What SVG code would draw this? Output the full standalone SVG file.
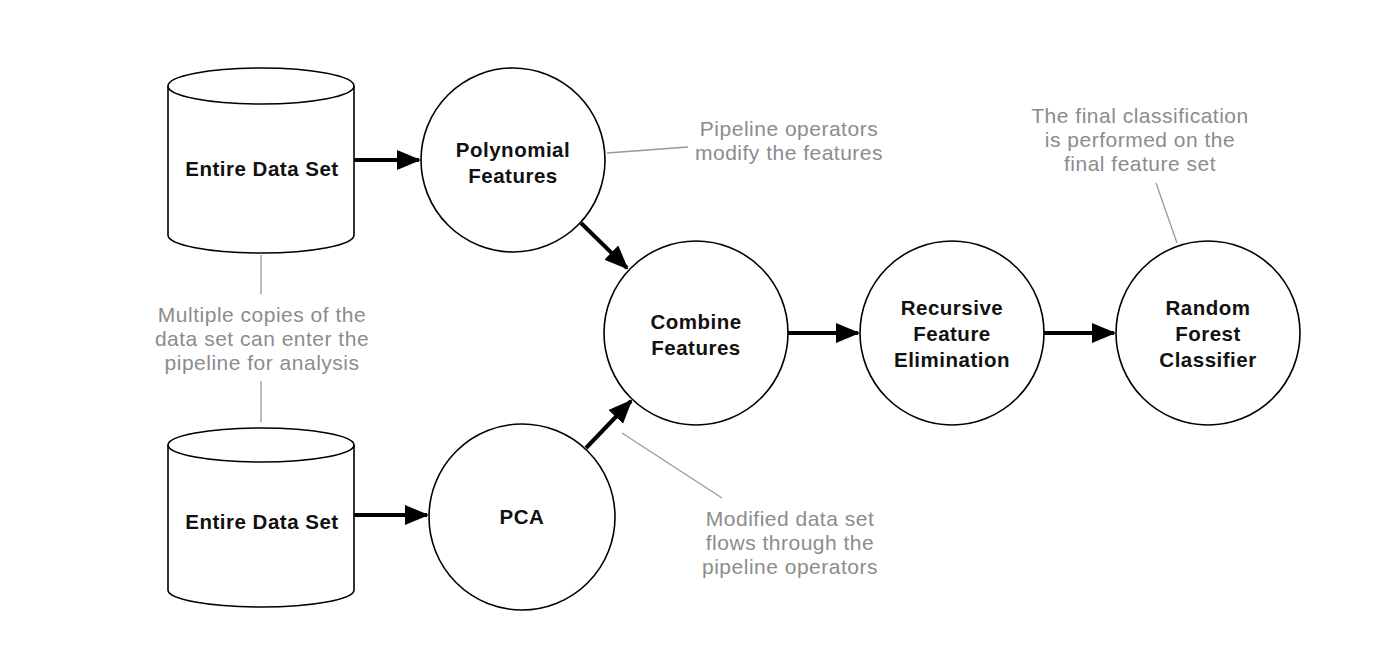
<svg xmlns="http://www.w3.org/2000/svg" width="1400" height="672" viewBox="0 0 1400 672">
<style>
.shape{fill:#fff;stroke:#000;stroke-width:1.6}
.lbl{font-family:"Liberation Sans",Arial,sans-serif;font-weight:bold;font-size:20.5px;letter-spacing:0.5px;fill:#111;text-anchor:middle}
.note{font-family:"Liberation Sans",Arial,sans-serif;font-size:21px;letter-spacing:0.5px;fill:#8c8c8c;text-anchor:middle}
.flow{stroke:#000;stroke-width:4;fill:none;marker-end:url(#ah)}
.lead{stroke:#999;stroke-width:1.3;fill:none}
</style>
<defs>
<marker id="ah" markerWidth="6" markerHeight="5" refX="5.5" refY="2.5" orient="auto" markerUnits="strokeWidth">
<path d="M0,0 L6,2.5 L0,5 Z" fill="#000"/>
</marker>
</defs>
<rect width="1400" height="672" fill="#fff"/>
<g id="connectors">
<line class="flow" x1="354" y1="160" x2="419" y2="160"/>
<line class="flow" x1="354" y1="515" x2="427" y2="515"/>
<line class="flow" x1="581" y1="223" x2="627" y2="268"/>
<line class="flow" x1="586" y1="448" x2="631" y2="401"/>
<line class="flow" x1="788" y1="333" x2="858" y2="333"/>
<line class="flow" x1="1044" y1="333" x2="1114" y2="333"/>
<line class="lead" x1="261" y1="255" x2="261" y2="294"/>
<line class="lead" x1="261" y1="381" x2="261" y2="422"/>
<line class="lead" x1="607" y1="153" x2="688" y2="147"/>
<line class="lead" x1="622" y1="433" x2="722" y2="498"/>
<line class="lead" x1="1156" y1="183" x2="1177" y2="243"/>
</g>
<g id="data1">
<path class="shape" d="M168,86 L168,235 A93,18 0 0 0 354,235 L354,86 A93,18 0 0 0 168,86 Z"/>
<path class="shape" d="M168,86 A93,18 0 0 0 354,86" fill="none"/>
<text class="lbl" x="262" y="176">Entire Data Set</text>
</g>
<g id="data2">
<path class="shape" d="M168,445 L168,590 A93,17 0 0 0 354,590 L354,445 A93,17 0 0 0 168,445 Z"/>
<path class="shape" d="M168,445 A93,17 0 0 0 354,445" fill="none"/>
<text class="lbl" x="262" y="529">Entire Data Set</text>
</g>
<g id="poly">
<circle class="shape" cx="513" cy="160" r="92"/>
<text class="lbl" x="513" y="157">Polynomial</text>
<text class="lbl" x="513" y="183">Features</text>
</g>
<g id="pca">
<circle class="shape" cx="522" cy="517" r="93"/>
<text class="lbl" x="522" y="524">PCA</text>
</g>
<g id="combine">
<circle class="shape" cx="696" cy="333" r="92"/>
<text class="lbl" x="696" y="329">Combine</text>
<text class="lbl" x="696" y="355">Features</text>
</g>
<g id="rfe">
<circle class="shape" cx="952" cy="333" r="92"/>
<text class="lbl" x="952" y="315">Recursive</text>
<text class="lbl" x="952" y="341">Feature</text>
<text class="lbl" x="952" y="367">Elimination</text>
</g>
<g id="rf">
<circle class="shape" cx="1208" cy="333" r="92"/>
<text class="lbl" x="1208" y="315">Random</text>
<text class="lbl" x="1208" y="341">Forest</text>
<text class="lbl" x="1208" y="367">Classifier</text>
</g>
<g id="notes">
<text class="note" x="789" y="136">Pipeline operators</text>
<text class="note" x="789" y="160">modify the features</text>
<text class="note" x="262" y="322">Multiple copies of the</text>
<text class="note" x="262" y="346">data set can enter the</text>
<text class="note" x="262" y="370">pipeline for analysis</text>
<text class="note" x="790" y="526">Modified data set</text>
<text class="note" x="790" y="550">flows through the</text>
<text class="note" x="790" y="574">pipeline operators</text>
<text class="note" x="1140" y="123">The final classification</text>
<text class="note" x="1140" y="147">is performed on the</text>
<text class="note" x="1140" y="171">final feature set</text>
</g>
</svg>
